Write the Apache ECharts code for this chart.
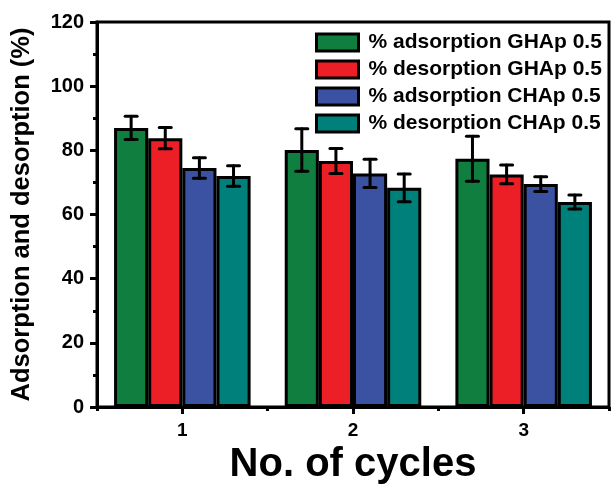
<!DOCTYPE html>
<html>
<head>
<meta charset="utf-8">
<script src="https://cdn.jsdelivr.net/npm/echarts@6/dist/echarts.min.js"></script>
<style>html,body{margin:0;padding:0;background:#fff}#c{width:613px;height:484px}</style>
</head>
<body>
<div id="c"></div>
<script>
const categories = ['1', '2', '3'];
const seriesNames = ['% adsorption GHAp 0.5', '% desorption GHAp 0.5', '% adsorption CHAp 0.5', '% desorption CHAp 0.5'];
const adsorptionGHAp = [87.0, 80.1, 77.4];
const desorptionGHAp = [83.8, 76.7, 72.5];
const adsorptionCHAp = [74.5, 72.8, 69.5];
const desorptionCHAp = [72.0, 68.3, 63.9];
const errAdsorptionGHAp = [3.6, 6.6, 7.0];
const errDesorptionGHAp = [3.3, 3.9, 2.9];
const errAdsorptionCHAp = [3.2, 4.4, 2.3];
const errDesorptionCHAp = [3.2, 4.3, 2.2];
const yTicks = [0, 20, 40, 60, 80, 100, 120];

const values = [adsorptionGHAp, desorptionGHAp, adsorptionCHAp, desorptionCHAp];
const errors = [errAdsorptionGHAp, errDesorptionGHAp, errAdsorptionCHAp, errDesorptionCHAp];
const colors = ['#0f7e3f', '#ec1f27', '#3b52a3', '#00807b'];
const FONT = 'Liberation Sans, Arial, sans-serif';

const chart = echarts.init(document.getElementById('c'), null, {renderer: 'canvas'});

const barSeries = values.map((v, k) => ({
  name: seriesNames[k],
  type: 'bar',
  xAxisIndex: 0,
  data: v,
  barGap: '0%',
  barCategoryGap: '20%',
  itemStyle: {color: colors[k], borderColor: '#000', borderWidth: 3},
  emphasis: {disabled: true},
  z: 2
}));

const errSeries = values.map((v, k) => ({
  name: 'err' + k,
  type: 'custom',
  xAxisIndex: 0,
  z: 5,
  data: v.map((val, i) => [i, val, errors[k][i]]),
  encode: {x: 0, y: 1},
  renderItem: function (params, api) {
    const idx = api.value(0), val = api.value(1), err = api.value(2);
    const c = api.coord([idx, val]);
    const band = api.size([1, 0])[0];
    const w = band * 0.8 / 4;
    const x = c[0] + (k - 1.5) * w;
    const yT = api.coord([idx, val + err])[1];
    const yB = api.coord([idx, val - err])[1];
    const cap = 6;
    const st = {stroke: '#000', lineWidth: 3, lineCap: 'round'};
    return {
      type: 'group',
      children: [
        {type: 'line', shape: {x1: x, y1: yT, x2: x, y2: yB}, style: st},
        {type: 'line', shape: {x1: x - cap, y1: yT, x2: x + cap, y2: yT}, style: st},
        {type: 'line', shape: {x1: x - cap, y1: yB, x2: x + cap, y2: yB}, style: st}
      ]
    };
  }
}));

chart.setOption({
  animation: false,
  backgroundColor: '#fff',
  grid: {left: 97, right: 4, top: 22, bottom: 77, outerBoundsMode: 'none', containLabel: false, show: true, borderColor: '#000', borderWidth: 3, backgroundColor: 'transparent'},
  legend: {
    data: seriesNames.map(n => ({name: n, icon: 'rect'})),
    orient: 'vertical',
    left: 310,
    top: 27,
    itemWidth: 42,
    itemHeight: 17,
    itemGap: 6,
    selectedMode: false,
    itemStyle: {borderColor: '#000', borderWidth: 3},
    textStyle: {fontFamily: FONT, fontWeight: 'bold', fontSize: 21, color: '#000', lineHeight: 21, padding: [0, 0, 0, 5]}
  },
  xAxis: [
    {
      type: 'category',
      data: categories,
      position: 'bottom',
      name: 'No. of cycles',
      nameLocation: 'middle',
      nameGap: 36,
      nameTextStyle: {fontFamily: FONT, fontWeight: 'bold', fontSize: 40, color: '#000'},
      axisLine: {show: true, lineStyle: {color: '#000', width: 3}},
      axisTick: {show: true, alignWithLabel: true, length: 7, lineStyle: {color: '#000', width: 3}},
      axisLabel: {fontFamily: FONT, fontWeight: 'bold', fontSize: 19, color: '#000', margin: 14},
      splitLine: {show: false}
    },
    {
      type: 'category',
      data: categories,
      position: 'bottom',
      axisLine: {show: false},
      axisTick: {show: true, alignWithLabel: false, length: 4, lineStyle: {color: '#000', width: 3}},
      axisLabel: {show: false},
      splitLine: {show: false}
    }
  ],
  yAxis: {
    type: 'value',
    min: yTicks[0],
    max: yTicks[yTicks.length - 1],
    interval: yTicks[1] - yTicks[0],
    name: 'Adsorption and desorption (%)',
    nameLocation: 'middle',
    nameGap: 62,
    nameTextStyle: {fontFamily: FONT, fontWeight: 'bold', fontSize: 25.5, color: '#000'},
    axisLine: {show: true, lineStyle: {color: '#000', width: 3}},
    axisTick: {show: true, length: 7, lineStyle: {color: '#000', width: 3}},
    minorTick: {show: true, splitNumber: 2, length: 4, lineStyle: {color: '#000', width: 3}},
    axisLabel: {fontFamily: FONT, fontWeight: 'bold', fontSize: 20, color: '#000', margin: 13},
    splitLine: {show: false}
  },
  series: barSeries.concat(errSeries)
});
</script>
</body>
</html>
